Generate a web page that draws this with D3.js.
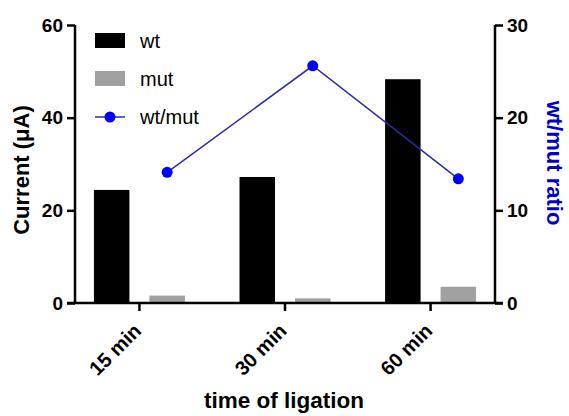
<!DOCTYPE html>
<html lang="en">
  <head>
    <meta charset="UTF-8" />
    <title>Current by time of ligation</title>
    <script src="https://d3js.org/d3.v7.min.js"></script>
    <style>
      body { margin: 0; background: #fff; }
      text { font-family: Arial, 'Liberation Sans', sans-serif; }
      .axis path, .axis line { stroke: #000; stroke-width: 2.5px; }
      .axis text { font-size: 19px; font-weight: bold; fill: #000; }
    </style>
  </head>
  <body>
    <div id="chart"></div>
    <script>
      // data
      const categories = ['15 min', '30 min', '60 min'];
      const series = ['wt', 'mut'];
      const wtValues = [24.4, 27.2, 48.3];
      const mutValues = [1.6, 1.0, 3.5];
      const ratioValues = [14.1, 25.6, 13.4];
      const leftTicks = [0, 20, 40, 60];
      const rightTicks = [0, 10, 20, 30];

      const svg = d3.select('#chart').append('svg')
        .attr('width', 569).attr('height', 416);

      const plotLeft = 75, plotRight = 495, plotTop = 25, plotBottom = 303;

      const x = d3.scaleBand().domain(categories)
        .range([plotLeft, plotRight]).paddingInner(0.375).paddingOuter(0.13);
      const xs = d3.scaleBand().domain(series)
        .range([0, x.bandwidth()]).paddingInner(0.36);
      const y = d3.scaleLinear().domain([0, 60]).range([plotBottom, plotTop]);
      const y2 = d3.scaleLinear().domain([0, 30]).range([plotBottom, plotTop]);

      const colors = { wt: '#000000', mut: '#a0a0a0' };
      const rows = categories.map((c, i) => ({ cat: c, wt: wtValues[i], mut: mutValues[i], ratio: ratioValues[i] }));

      // bars
      series.forEach(s => {
        svg.selectAll('.bar-' + s).data(rows).enter().append('rect')
          .attr('class', 'bar-' + s)
          .attr('x', d => x(d.cat) + xs(s))
          .attr('width', xs.bandwidth())
          .attr('y', d => y(d[s]))
          .attr('height', d => y(0) - y(d[s]))
          .attr('fill', colors[s]);
      });

      // axes
      svg.append('g').attr('class', 'axis')
        .attr('transform', `translate(${plotLeft},0)`)
        .call(d3.axisLeft(y).tickValues(leftTicks).tickSize(8).tickPadding(4))
        .call(g => g.select('.domain').attr('d', `M0,${plotBottom}V${plotTop}`));

      svg.append('g').attr('class', 'axis')
        .attr('transform', `translate(${plotRight},0)`)
        .call(d3.axisRight(y2).tickValues(rightTicks).tickSize(8).tickPadding(4))
        .call(g => g.select('.domain').attr('d', `M0,${plotBottom}V${plotTop}`));

      const xAxis = svg.append('g').attr('class', 'axis')
        .attr('transform', `translate(0,${plotBottom})`)
        .call(d3.axisBottom(x).tickSize(8))
        .call(g => g.select('.domain').attr('d', `M${plotLeft - 8},0H${plotRight + 8}`));
      xAxis.selectAll('.tick text')
        .attr('text-anchor', 'end')
        .attr('x', 0).attr('y', 0).attr('dy', 0)
        .style('font-size', '20px')
        .attr('transform', 'translate(3,29) rotate(-45)');

      // ratio line
      const px = d => x(d.cat) + xs('mut') + xs.bandwidth() / 2;
      svg.append('path').datum(rows)
        .attr('fill', 'none').attr('stroke', '#2b2ba8').attr('stroke-width', 1.5)
        .attr('d', d3.line().x(px).y(d => y2(d.ratio)));
      svg.selectAll('.pt').data(rows).enter().append('circle')
        .attr('class', 'pt')
        .attr('cx', px).attr('cy', d => y2(d.ratio)).attr('r', 5.5)
        .attr('fill', '#0000ff');

      // axis titles
      svg.append('text')
        .attr('transform', 'translate(29,170) rotate(-90)')
        .attr('text-anchor', 'middle')
        .style('font-size', '22px').style('font-weight', 'bold')
        .text('Current (\u03BCA)');
      svg.append('text')
        .attr('transform', 'translate(547,163) rotate(90)')
        .attr('text-anchor', 'middle')
        .style('font-size', '22px').style('font-weight', 'bold')
        .attr('fill', '#0000cc')
        .text('wt/mut ratio');
      svg.append('text')
        .attr('x', 284).attr('y', 408)
        .attr('text-anchor', 'middle')
        .style('font-size', '22.5px').style('font-weight', 'bold')
        .text('time of ligation');

      // legend
      const legend = svg.append('g').attr('transform', 'translate(95,33)');
      series.forEach((s, i) => {
        legend.append('rect').attr('x', 0).attr('y', i * 38)
          .attr('width', 30).attr('height', 15).attr('fill', colors[s]);
        legend.append('text').attr('x', 45).attr('y', i * 38 + 15)
          .style('font-size', '20px').text(s);
      });
      legend.append('line').attr('x1', 0).attr('x2', 30).attr('y1', 84).attr('y2', 84)
        .attr('stroke', '#2b2ba8').attr('stroke-width', 1.5);
      legend.append('circle').attr('cx', 15).attr('cy', 84).attr('r', 5.5).attr('fill', '#0000ff');
      legend.append('text').attr('x', 45).attr('y', 91)
        .style('font-size', '20px').text('wt/mut');
    </script>
  </body>
</html>
